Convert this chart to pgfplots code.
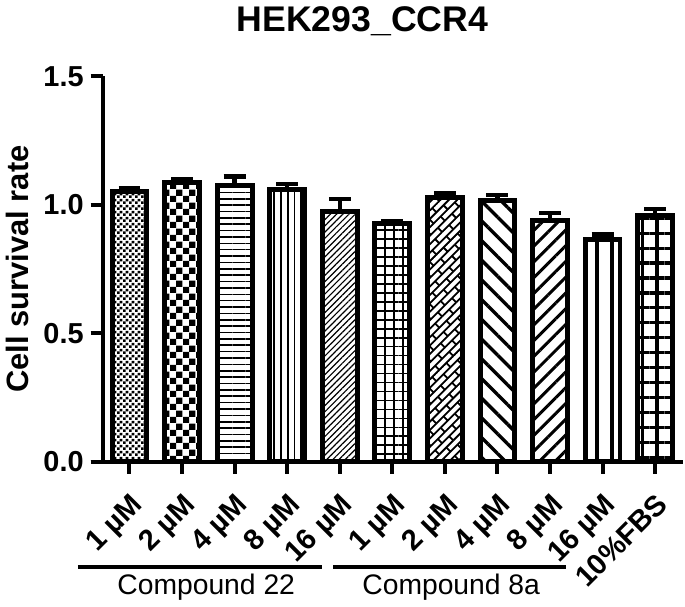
\documentclass[border=0pt]{standalone}
\usepackage{pgfplots}
\pgfplotsset{compat=1.18}
\usepackage{fontspec}
\setmainfont{Liberation Sans}
\usetikzlibrary{patterns,patterns.meta}

\tikzdeclarepattern{
  name=SmallCheck,
  type=uncolored,
  bottom left={(0pt,0pt)},
  top right={(2.8pt,2.8pt)},
  tile size={(2.8pt,2.8pt)},
  code={\fill (0pt,0pt) rectangle (1.4pt,1.4pt); \fill (1.4pt,1.4pt) rectangle (2.8pt,2.8pt);}
}
\tikzdeclarepattern{
  name=BigCheck,
  type=uncolored,
  bottom left={(0pt,0pt)},
  top right={(6.6pt,6.6pt)},
  tile size={(6.6pt,6.6pt)},
  code={\fill (0pt,0pt) rectangle (3.3pt,3.3pt); \fill (3.3pt,3.3pt) rectangle (6.6pt,6.6pt);}
}
\tikzdeclarepattern{
  name=VLines,
  type=uncolored,
  bottom left={(-1pt,-1pt)},
  top right={(4.4pt,4.4pt)},
  tile size={(3.4pt,3.4pt)},
  code={\draw[line width=0.8pt] (1.7pt,-1pt)--(1.7pt,4.4pt);}
}
\tikzdeclarepattern{
  name=DiagBricks,
  type=uncolored,
  bottom left={(-0.6pt,-0.6pt)},
  top right={(10.6pt,6.6pt)},
  tile size={(10pt,6pt)},
  tile transformation={rotate=45},
  code={\draw[line width=0.9pt] (0pt,0pt)--(10pt,0pt) (0pt,3pt)--(10pt,3pt) (0pt,0pt)--(0pt,3pt) (5pt,3pt)--(5pt,6pt);}
}

\pgfplotsset{
  mybar/.style={
    ybar, bar width=17.5pt, bar shift=0pt,
    draw=black, line width=2.5pt,
    error bars/y dir=plus, error bars/y explicit,
    error bars/error bar style={line width=2.2pt, black},
    error bars/error mark options={rotate=90, line width=2.2pt, mark size=5.5pt, black},
  },
}

\begin{document}
\begin{tikzpicture}
\begin{axis}[
  scale only axis,
  width=291.5pt, height=193.5pt,
  xmin=-0.511, xmax=10.53,
  ymin=0, ymax=1.5,
  axis lines=left,
  axis line style={-, line width=2pt},
  clip=false,
  tick align=outside,
  major tick length=6pt,
  tick style={line width=2pt, black},
  ytick={0,0.5,1.0,1.5},
  yticklabel style={font=\fontsize{14.5}{16}\selectfont\bfseries,
    /pgf/number format/.cd, fixed, fixed zerofill, precision=1, assume math mode=true},
  xtick={0,1,2,3,4,5,6,7,8,9,10},
  xticklabels={1 µM,2 µM,4 µM,8 µM,16 µM,1 µM,2 µM,4 µM,8 µM,16 µM,10\%FBS},
  xticklabel style={font=\fontsize{14.6}{16}\selectfont\bfseries, rotate=45, anchor=north east,
    xshift=-3pt, yshift=-3pt},
  ylabel={Cell survival rate},
  every axis y label/.style={at={(axis description cs:-0.1458,0.5)}, rotate=90, anchor=center,
    font=\fontsize{15.5}{17}\selectfont\bfseries},
  title={HEK293\_CCR4},
  every axis title/.style={at={(axis description cs:0.4477,1)}, anchor=base, yshift=22.5pt,
    font=\fontsize{17.9}{20}\selectfont\bfseries},
]
\addplot[mybar, pattern=SmallCheck] coordinates {(0,1.052) +- (0,0.012)};
\addplot[mybar, pattern=BigCheck] coordinates {(1,1.088) +- (0,0.012)};
\addplot[mybar, pattern={Lines[angle=0, distance=3.2pt, line width=0.8pt]}] coordinates {(2,1.075) +- (0,0.035)};
\addplot[mybar, pattern=VLines] coordinates {(3,1.058) +- (0,0.022)};
\addplot[mybar, pattern={Lines[angle=45, distance=2.2pt, line width=0.6pt]}] coordinates {(4,0.973) +- (0,0.05)};
\addplot[mybar, pattern={Hatch[angle=0, distance=4.5pt, line width=0.8pt]}] coordinates {(5,0.928) +- (0,0.008)};
\addplot[mybar, pattern=DiagBricks] coordinates {(6,1.029) +- (0,0.016)};
\addplot[mybar, pattern={Lines[angle=-45, distance=7pt, line width=1.7pt]}] coordinates {(7,1.016) +- (0,0.021)};
\addplot[mybar, pattern={Lines[angle=45, distance=5.6pt, line width=1.5pt]}] coordinates {(8,0.94) +- (0,0.027)};
\addplot[mybar, pattern={Lines[angle=90, distance=7.5pt, line width=2pt]}] coordinates {(9,0.866) +- (0,0.018)};
\addplot[mybar, pattern={Hatch[angle=0, distance=7.5pt, line width=1.6pt]}] coordinates {(10,0.957) +- (0,0.027)};

\draw[line width=2pt] ([xshift=-6pt]axis cs:-0.511,0) -- (axis cs:-0.511,0);
\draw[line width=1.7pt] ([yshift=-53pt]axis cs:-0.98,0) -- ([yshift=-53pt]axis cs:3.66,0);
\draw[line width=1.7pt] ([yshift=-53pt]axis cs:3.88,0) -- ([yshift=-53pt]axis cs:8.30,0);
\node[anchor=base, font=\fontsize{14.2}{16}\selectfont] at ([yshift=-66.5pt]axis cs:1.46,0) {Compound 22};
\node[anchor=base, font=\fontsize{14.2}{16}\selectfont] at ([yshift=-66.5pt]axis cs:6.12,0) {Compound 8a};
\end{axis}
\end{tikzpicture}
\end{document}
